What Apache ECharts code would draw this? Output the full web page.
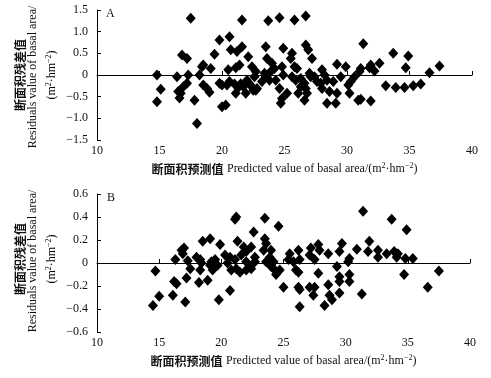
<!DOCTYPE html>
<html><head><meta charset="utf-8">
<script src="https://cdn.jsdelivr.net/npm/echarts@6/dist/echarts.min.js"></script>
<style>html,body{margin:0;padding:0;background:#fff}#c{width:491px;height:378px}</style>
</head><body><div id="c"></div>
<script>
// Panel A: predicted basal area (x) vs residuals (y)
const predA = [17.5,21.6,19.8,20.6,20.7,21.2,21.6,22.1,16.8,17.2,19.4,18.5,18.4,19.1,21.4,21.1,20.5,22.4,22.7,14.8,16.4,17.3,17.2,16.9,18.2,15.1,14.8,16.5,16.7,16.6,17.8,18.0,18.5,18.8,19.0,19.8,20.0,20.4,21.0,21.5,22.2,21.9,21.1,22.8,20.0,20.3,20.6,21.3,21.7,22.0,22.5,
  23.7,24.6,25.8,26.7,23.5,24.9,25.6,26.7,26.9,27.2,23.6,24.0,24.2,24.8,24.9,23.5,22.6,22.4,22.7,24.3,25.8,26.0,25.6,25.9,26.3,26.6,26.3,27.0,27.1,27.4,28.0,28.4,28.9,29.2,29.9,29.5,30.3,30.6,31.0,24.6,25.2,24.8,24.7,26.7,26.8,26.6,28.6,29.2,28.4,29.1,30.1,30.2,30.9,27.9,28.0,23.4,23.8,23.2,25.5,27.6,28.2,26.1,23.9,
  31.3,33.7,34.9,34.7,37.4,36.6,31.1,31.9,32.2,32.6,33.1,33.9,34.6,35.3,35.9,31.1,31.9,31.8];
const residA = [1.31,1.27,0.81,0.88,0.58,0.54,0.65,0.42,0.46,0.38,0.48,0.23,0.19,0.15,0.23,0.17,0.12,0.19,0.08,0.0,-0.04,0.0,-0.19,-0.27,0.0,-0.33,-0.62,-0.38,-0.42,-0.53,-0.58,-1.12,-0.23,-0.31,-0.4,-0.19,-0.23,-0.23,-0.21,-0.2,-0.21,-0.42,-0.42,-0.31,-0.73,-0.69,-0.15,-0.29,-0.27,-0.12,-0.35,
  1.25,1.32,1.27,1.36,0.65,0.62,0.5,0.69,0.58,0.38,0.38,0.27,0.15,0.19,0.0,-0.04,-0.04,-0.27,-0.35,-0.12,0.19,0.15,-0.04,-0.12,-0.08,-0.19,-0.27,0.04,-0.04,-0.04,0.12,-0.12,-0.15,0.25,0.19,-0.04,-0.15,-0.04,0.08,-0.31,-0.42,-0.54,-0.65,-0.31,-0.42,-0.58,-0.38,-0.42,-0.65,-0.65,-0.23,-0.42,-0.58,-0.19,-0.31,0.04,-0.12,-0.15,0.38,-0.15,0.0,-0.42,0.08,
  0.72,0.5,0.44,0.17,0.21,0.05,0.15,0.23,0.09,0.27,-0.25,-0.29,-0.29,-0.25,-0.21,-0.56,-0.6,0.17];
// Panel B
const predB = [21.2,21.1,22.6,18.5,19.1,19.9,21.3,16.8,17.0,16.9,16.3,17.3,18.0,18.3,18.4,14.7,17.5,18.3,19.1,19.2,19.5,19.7,19.3,20.3,20.7,21.1,20.5,20.8,21.2,21.8,22.0,21.6,22.0,22.3,22.7,22.7,21.5,22.0,16.2,16.4,17.2,18.2,18.9,15.0,16.1,14.5,17.1,19.8,20.7,
  23.5,24.6,31.4,23.5,23.6,24.0,23.4,23.9,23.6,24.2,24.0,24.3,24.7,24.4,22.4,22.4,25.5,26.2,25.4,25.8,26.3,26.0,26.2,27.2,27.8,27.1,27.5,27.9,28.6,29.7,29.5,30.9,30.3,30.2,27.8,28.6,29.3,29.5,29.5,30.3,30.3,25.0,26.2,26.3,27.1,27.5,27.4,26.3,28.7,29.5,28.9,28.3,31.3,
  33.7,34.9,31.9,31.8,32.6,32.6,33.3,33.9,34.2,34.1,34.8,35.4,37.5,34.7,36.6];
const residB = [0.40,0.38,0.27,0.19,0.21,0.16,0.19,0.11,0.13,0.08,0.03,0.02,0.05,0.03,0.0,-0.07,-0.05,-0.06,-0.02,0.01,0.03,-0.02,-0.06,0.07,0.05,0.03,0.0,-0.06,-0.05,0.14,0.10,0.07,0.01,-0.03,0.01,0.05,-0.08,-0.06,-0.16,-0.18,-0.13,-0.17,-0.15,-0.29,-0.28,-0.37,-0.34,-0.32,-0.24,
  0.39,0.32,0.45,0.21,0.17,0.11,0.11,0.05,0.01,0.01,-0.03,-0.06,-0.06,-0.10,-0.05,0.14,0.08,0.11,0.03,0.01,0.03,-0.06,-0.08,0.13,0.16,0.07,0.03,0.11,0.08,0.17,0.10,0.12,0.04,0.01,-0.09,-0.19,-0.03,-0.12,-0.16,-0.10,-0.16,-0.21,-0.21,-0.23,-0.21,-0.21,-0.28,-0.38,-0.28,-0.26,-0.32,-0.37,-0.27,
  0.38,0.29,0.19,0.10,0.11,0.05,0.08,0.10,0.08,0.05,0.04,0.04,-0.07,-0.10,-0.21];
const xMin = 10, xMax = 40, xStep = 5;
const yARange = [-1.5, 1.5, 0.5];
const yBRange = [-0.6, 0.6, 0.2];
const panelLabels = ['A', 'B'];
const xName = '断面积预测值';
const xNameEn = 'Predicted value of basal area/';
const yNameCn = '断面积残差值';
const yNameEn = 'Residuals value of basal area/';

const serif = '"Liberation Serif","Times New Roman",serif';
const cjk = '"Noto Sans CJK SC",sans-serif';
const fmt = v => v === 0 ? '0' : v.toFixed(1).replace('-', '\u2212');
const unitRich = {
  cn: {fontFamily: cjk, fontWeight: 'bold', fontSize: 12, color: '#111'},
  en: {fontFamily: serif, fontSize: 12, color: '#111'},
  sup: {fontFamily: serif, fontSize: 8, color: '#111', verticalAlign: 'top', lineHeight: 14, padding: [0,0,5,0]}
};
const unitStr = '{en|(m}{sup|2}{en|·hm}{sup|\u22122}{en|)}';

function xAx(gi) {
  return {
    type: 'value', gridIndex: gi, min: xMin, max: xMax, interval: xStep,
    axisLine: {show: true, lineStyle: {color: '#000', width: 1}},
    axisTick: {show: true, inside: true, length: 4, lineStyle: {color: '#000'}},
    axisLabel: {color: '#111', fontFamily: serif, fontSize: 12, margin: 5},
    splitLine: {show: false},
    name: '{cn|' + xName + '} {en|' + xNameEn + '}' + unitStr,
    nameLocation: 'middle', nameGap: 22,
    nameTextStyle: {rich: unitRich}
  };
}
function yAx(gi, r) {
  return {
    type: 'value', gridIndex: gi, min: r[0], max: r[1], interval: r[2],
    axisLine: {show: true, lineStyle: {color: '#000', width: 1}},
    axisTick: {show: true, inside: true, length: 4, lineStyle: {color: '#000'}},
    axisLabel: {color: '#111', fontFamily: serif, fontSize: 12, margin: 9, formatter: fmt},
    splitLine: {show: false}
  };
}
function yNames(cy) {
  return [
    {type: 'text', x: 20, y: cy, rotation: Math.PI/2, style: {text: yNameCn, font: 'bold 12px ' + cjk, fill: '#111', align: 'center', verticalAlign: 'middle'}},
    {type: 'text', x: 33, y: cy + 2, rotation: Math.PI/2, style: {text: yNameEn, font: '12px ' + serif, fill: '#111', align: 'center', verticalAlign: 'middle'}},
    {type: 'text', x: 52, y: cy, rotation: Math.PI/2, style: {text: unitStr, rich: unitRich, align: 'center', verticalAlign: 'middle'}}
  ];
}
const chart = echarts.init(document.getElementById('c'), null, {renderer: 'canvas'});
chart.setOption({
  animation: false,
  backgroundColor: '#fff',
  grid: [
    {left: 97, right: 19, top: 10, height: 130},
    {left: 97, right: 21, top: 194, height: 138}
  ],
  xAxis: [xAx(0), xAx(1)],
  yAxis: [yAx(0, yARange), yAx(1, yBRange)],
  graphic: [
    {type: 'text', x: 106, y: 8, style: {text: panelLabels[0], font: '12px ' + serif, fill: '#111'}},
    {type: 'text', x: 107, y: 192, style: {text: panelLabels[1], font: '12px ' + serif, fill: '#111'}},
    ...yNames(75), ...yNames(259)
  ],
  series: [
    {type: 'scatter', xAxisIndex: 0, yAxisIndex: 0, symbol: 'diamond', symbolSize: [10, 11],
     itemStyle: {color: '#000', opacity: 1}, data: predA.map((x, i) => [x, residA[i]])},
    {type: 'scatter', xAxisIndex: 1, yAxisIndex: 1, symbol: 'diamond', symbolSize: [10, 11],
     itemStyle: {color: '#000', opacity: 1}, data: predB.map((x, i) => [x, residB[i]])}
  ]
});
</script></body></html>
